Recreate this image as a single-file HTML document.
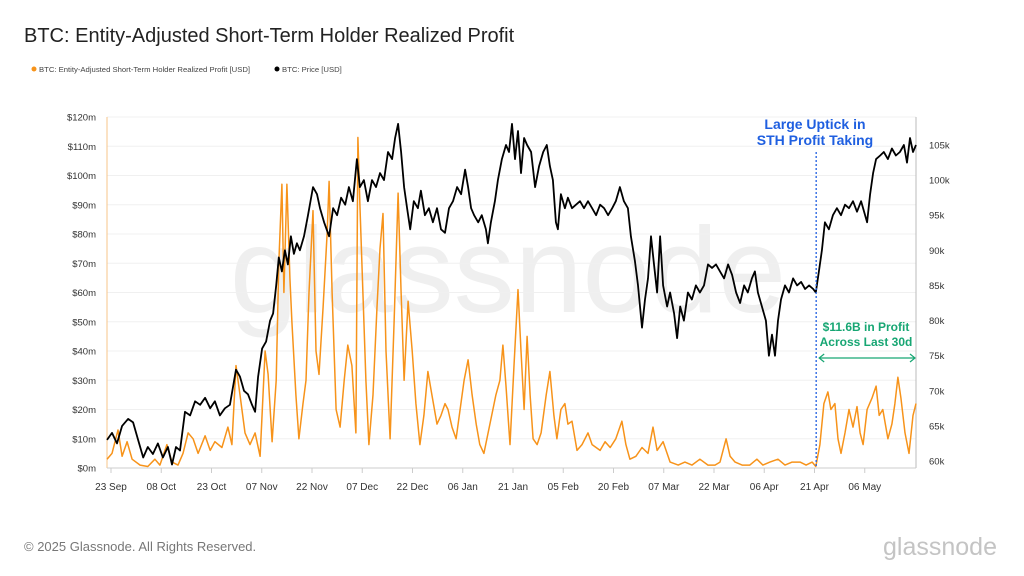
<!DOCTYPE html>
<html><head><meta charset="utf-8">
<style>
body{margin:0;background:#fff;font-family:"Liberation Sans",sans-serif;}
#wrap{position:relative;width:1024px;height:576px;overflow:hidden;}
</style></head>
<body>
<div id="wrap">
<svg id="chart" width="1024" height="576" font-family="Liberation Sans, sans-serif"></svg>
</div>
<script>
const xTickLabels=["23 Sep","08 Oct","23 Oct","07 Nov","22 Nov","07 Dec","22 Dec","06 Jan","21 Jan","05 Feb","20 Feb","07 Mar","22 Mar","06 Apr","21 Apr","06 May"];
const leftTicks=[0,10,20,30,40,50,60,70,80,90,100,110,120];
const rightTicks=[60,65,70,75,80,85,90,95,100,105];
const profitDays=[-1.2,0.3,2.1,3.3,4.8,6.3,8.7,11,13.1,14.6,16.7,18.2,20,21.5,23,24.5,26,28.1,29.6,31,33.1,34.9,36.1,37.3,38.5,40,41.5,43,44.5,46,46.9,48.1,49.3,50.1,51,51.6,52.5,53.4,54,55.2,56.1,57.3,58.2,59.1,60.3,61.2,62.1,63.3,64.5,65.1,66,67.2,68.4,69.6,70.7,71.9,73.1,73.7,74.3,75.2,76.1,77,78.2,79.4,80.3,81.2,82.1,83.3,84.5,85.7,86.6,87.5,88.7,89.9,91,92.2,93.4,94.6,95.8,97.3,98.5,99.7,100.6,101.8,103,104.2,105.4,106.6,107.8,109,110.1,111.3,113.1,114.9,116.1,117,117.9,119.1,120.3,121.5,122.4,123.3,124.2,125.1,126,127.2,128.4,129.9,131,132.2,133.1,134.3,135.5,136.4,137.6,139.1,140.6,142.4,143.6,144.8,146,147.5,149,150.7,152.5,153.7,154.9,156.7,158.5,160.3,161.8,163,164.8,166,166.9,169.3,171.3,173.4,175.8,178.2,180.3,181.8,183.6,184.8,186.3,188.4,190.7,192.8,194.6,196.7,199.1,201.2,203.3,205.7,207.5,209.3,210.4,211.6,212.8,214,214.9,216.1,217,217.9,219.1,220.3,221.5,222.7,223.6,224.5,225.7,227.2,228.4,229.3,230.4,231.9,233.1,234,234.9,235.8,237,238.2,239.4,240.3];
const profitValues=[3,5,13,4,9,3,1,0.5,3,1,8,2,1,5,12,10,5,11,6,9,7,14,8,35,25,12,8,12,4,40,32,9,30,70,97,60,97,65,50,25,10,22,30,60,88,40,32,55,80,98,60,20,14,30,42,35,12,113,90,60,30,8,25,55,75,87,40,10,50,94,60,30,57,40,22,8,18,33,25,15,18,22,20,14,10,20,30,37,25,15,8,5,15,25,30,42,28,8,35,61,40,20,45,25,10,8,12,25,33,18,10,20,22,15,16,6,8,12,8,7,6,9,7,10,16,8,3,4,7,5,14,6,9,5,2,1,2,1,3,1,1,2,10,4,2,1,1,3,1,2,3,1,2,2,1,2,0.5,8,22,26,20,22,10,5,12,20,14,21,12,8,20,24,28,18,20,10,15,22,31,24,12,5,18,22];
const priceDays=[-1.2,0.3,1.8,3.3,5.1,6.6,8.1,9.6,11,12.5,14,15.5,17,18.2,19.4,20.6,22.1,23.6,25.1,26.6,28.1,29.6,31,32.5,34,35.5,37.3,38.5,39.7,40.9,42.1,43,43.9,45.1,46.3,47.5,48.4,49.3,50.1,51,51.9,52.8,53.7,54.6,55.5,56.4,57.6,58.8,60.3,61.5,62.4,63.6,65.1,66.3,67.5,68.7,69.9,71,72.2,73.4,74.3,75.5,76.7,77.9,79.1,80.3,81.5,82.7,83.9,84.8,85.7,86.6,87.5,88.4,89.3,90.4,91.6,92.5,93.7,94.9,96.1,97.3,98.5,99.7,100.9,102.1,103.3,104.5,105.7,106.6,107.5,108.4,109.6,110.7,111.9,112.5,113.4,114.6,115.5,116.7,117.9,118.8,119.7,120.6,121.5,122.4,123.3,124.2,125.4,126.6,127.8,129,130.1,131,131.9,132.8,133.4,134.3,135.5,136.4,137.6,138.8,140,141.2,142.4,143.6,144.8,146,147.2,148.4,149.6,150.7,151.9,153.1,154.3,155.2,156.4,157.3,158.5,159.4,160.3,161.2,162.1,163,163.9,164.8,166,166.9,168.1,169,169.9,171,172.2,173.4,174.6,175.8,177,178.2,179.4,180.6,181.8,183,184.2,185.4,186.6,187.8,189,190.1,191.3,192.2,193.1,194.3,195.5,196.4,197.3,198.2,199.1,200,201.2,202.4,203.6,204.8,206,207.2,208.4,209.6,210.4,211.3,212.2,213.1,214.3,215.5,216.7,217.9,219.1,220.3,221.5,222.7,223.9,225.1,225.7,226.6,227.5,228.4,229.6,230.7,231.9,233.1,234.3,235.5,236.7,237.6,238.5,239.4,240.3];
const priceValues=[63,64,62.5,65,66,65.5,63,60.5,62,61,62.5,60.5,62,59.5,62,61.5,67,66.5,68.5,68,69,67.5,68.5,66.5,67.5,68,73,72,70,69.5,68,67,72,76,77,80,81,85,89,87,90,88,92,89.5,91,90,92,95,99,98,96,94,92,96,95,97.5,96.5,99,97,103,99,100,97,100,99,101,100,104,103,106,108,104,99,96,93,97,96,98.5,95,96,94,96,93,92.5,96,97,99,98,101.5,99,96,95,94,95,93,91,94,97,100,103,105,104,108,103,107,101,106,105,104,99,102,104,105,102,100,94,93,98,96,97.5,96,96.5,97,96,97,96,95,96.5,96,95,96,97,99,97,96,92,88.5,85,79,83,86,92,88,84,92,85,82,84,81,77.5,82,80,84,83,85,84,85,88,87.5,88,87,86,88,86.5,84,82.5,85,84,86,87,84,82,80,75,78,75,80,83,85,84,86,85,85.5,84.5,85,84.5,84,87,90,94,93,95,96,95,96.5,96,97,95.5,97,95,94,98,101,103,103.5,104,103,104.5,103.5,104,105,102.5,106,104,105];
const annotationDay=210.5;

const NS="http://www.w3.org/2000/svg";
const svg=document.getElementById('chart');
const X0=111,DX=3.35,PL=107,PR=916,PT=117,PB=468;
function xS(d){return X0+DX*d;}
function yL(v){return PB-(PB-PT)*v/120;}
function yR(p){return 461-(p-60)*7.022;}
function el(tag,attrs,parent){const e=document.createElementNS(NS,tag);for(const k in attrs)e.setAttribute(k,attrs[k]);(parent||svg).appendChild(e);return e;}
function txt(s,attrs,parent){const e=el('text',attrs,parent);e.textContent=s;return e;}

let t=txt("BTC: Entity-Adjusted Short-Term Holder Realized Profit",{x:24,y:42,'font-size':20,fill:'#222'});

let g=el('g',{});
el('circle',{cx:34,cy:69,r:2.5,fill:'#f7931a'},g);
txt("BTC: Entity-Adjusted Short-Term Holder Realized Profit [USD]",{x:39,y:72,'font-size':7.7,fill:'#444'},g);
g=el('g',{});
el('circle',{cx:277,cy:69,r:2.5,fill:'#000'},g);
txt("BTC: Price [USD]",{x:282,y:72,'font-size':7.7,fill:'#444'},g);

t=txt("glassnode",{x:508,y:312,'font-size':122,fill:'#efefef','text-anchor':'middle'});


const grid=el('g',{});
leftTicks.forEach(v=>{
  if(v>0)el('line',{x1:PL,x2:PR,y1:yL(v),y2:yL(v),stroke:'#f0f0f0','stroke-width':1},grid);
  const l=txt('$'+v+'m',{x:96,y:yL(v)+3.5,'font-size':9.5,fill:'#333','text-anchor':'end'});
  
});
rightTicks.forEach(p=>{
  const l=txt(p+'k',{x:929,y:yR(p)+3.5,'font-size':9.5,fill:'#333'});
  
});
let a=el('line',{x1:PL,x2:PL,y1:PT,y2:PB,stroke:'#f7c58a','stroke-width':1});
a=el('line',{x1:PR,x2:PR,y1:PT,y2:PB,stroke:'#bbb','stroke-width':1});
a=el('line',{x1:PL,x2:PR,y1:PB,y2:PB,stroke:'#ccc','stroke-width':1});
xTickLabels.forEach((s,i)=>{
  const x=xS(i*15);
  el('line',{x1:x,x2:x,y1:PB,y2:PB+5,stroke:'#ccc'});
  const l=txt(s,{x:x,y:490,'font-size':10,fill:'#333','text-anchor':'middle'});
  
});

function path(days,vals,ys){return days.map((d,i)=>(i?'L':'M')+xS(d).toFixed(1)+','+ys(vals[i]).toFixed(1)).join('');}
let p=el('path',{d:path(profitDays,profitValues,yL),fill:'none',stroke:'#f7931a','stroke-width':1.5,'stroke-linejoin':'round'});

p=el('path',{d:path(priceDays,priceValues,yR),fill:'none',stroke:'#000','stroke-width':1.8,'stroke-linejoin':'round'});


const ax=xS(annotationDay);
p=el('line',{x1:ax,x2:ax,y1:152,y2:PB,stroke:'#1f5fe0','stroke-width':1.3,'stroke-dasharray':'2,2'});

g=el('g',{});
txt("Large Uptick in",{x:815,y:129,'font-size':14,'font-weight':'bold',fill:'#1f5fe0','text-anchor':'middle'},g);
txt("STH Profit Taking",{x:815,y:145,'font-size':14,'font-weight':'bold',fill:'#1f5fe0','text-anchor':'middle'},g);
g=el('g',{});
txt("$11.6B in Profit",{x:866,y:331,'font-size':12,'font-weight':'bold',fill:'#17a673','text-anchor':'middle'},g);
txt("Across Last 30d",{x:866,y:346,'font-size':12,'font-weight':'bold',fill:'#17a673','text-anchor':'middle'},g);
g=el('g',{stroke:'#17a673','stroke-width':1.2,fill:'none'});
el('line',{x1:ax+3,x2:PR-1,y1:358,y2:358},g);
el('path',{d:`M${ax+8},354 L${ax+3},358 L${ax+8},362 M${PR-6},354 L${PR-1},358 L${PR-6},362`},g);

t=txt("© 2025 Glassnode. All Rights Reserved.",{x:24,y:551,'font-size':13,fill:'#777'});

t=txt("glassnode",{x:997,y:555,'font-size':25,fill:'#c4c4c4','text-anchor':'end'});

</script>
</body></html>
